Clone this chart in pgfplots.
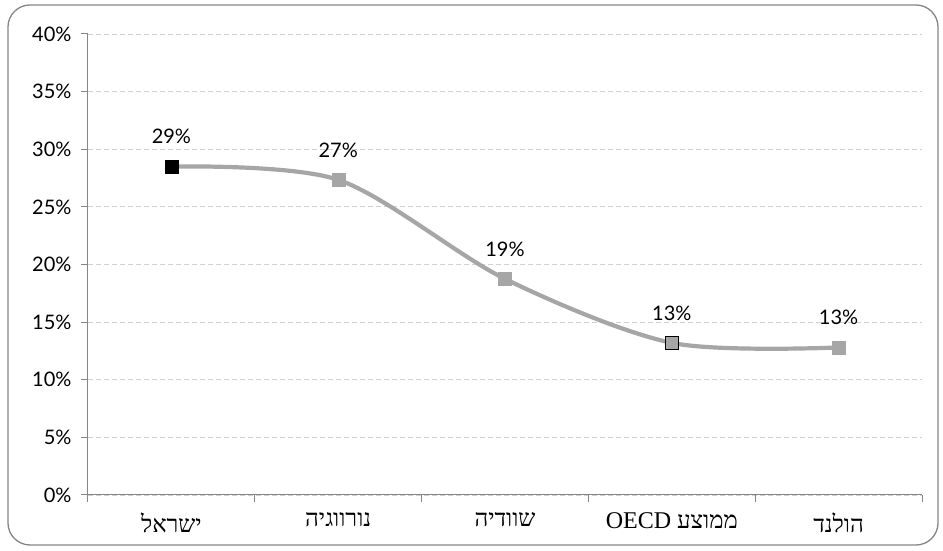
\documentclass[border=0pt]{standalone}
\usepackage{pgfplots}
\pgfplotsset{compat=1.18}
\usepackage{fontspec}
\setmainfont{Lato}
\newfontfamily\hebfont[Script=Hebrew]{Liberation Serif}
\TeXXeTstate=1
\definecolor{linegray}{HTML}{A6A6A6}
\definecolor{axgray}{HTML}{868686}
\definecolor{gridgray}{HTML}{D0D0D0}
\begin{document}
\begin{tikzpicture}[x=1pt,y=1pt]
\path (-88,-56) rectangle (855,495);
\draw[axgray, line width=1.3pt, rounded corners=22pt] (-80,-50) rectangle (850,490);
\begin{axis}[
  at={(0,0)}, anchor=south west,
  scale only axis, width=834pt, height=461pt,
  xmin=-0.5, xmax=4.5, ymin=0, ymax=40,
  axis lines=left, axis line style={-, axgray, line width=1pt},
  xtick={0,1,2,3,4},
  xticklabels={
    {\hebfont\beginR ישראל\endR},
    {\hebfont\beginR נורווגיה\endR},
    {\hebfont\beginR שוודיה\endR},
    {\hebfont\beginR ממוצע \beginL OECD\endL\endR},
    {\hebfont\beginR הולנד\endR}},
  minor xtick={-0.5,0.5,1.5,2.5,3.5,4.5},
  major x tick style={draw=none},
  minor tick length=7pt, major tick length=7pt,
  tick align=outside,
  tick style={axgray, line width=1pt},
  ytick={0,5,...,40},
  yticklabel={\pgfmathprintnumber{\tick}\%},
  /pgf/number format/assume math mode=true,
  ymajorgrids, grid style={gridgray, dash pattern=on 5pt off 3pt, line width=0.8pt},
  yticklabel style={font=\fontsize{20}{23}\selectfont, xshift=-6pt},
  xticklabel style={font=\hebfont\fontsize{24}{28}\selectfont, yshift=-7pt},
  clip=false,
]
\addplot[linegray, line width=4.2pt, smooth, tension=0.5, no marks,
  nodes near coords, point meta=explicit symbolic,
  every node near coord/.append style={font=\fontsize{20}{23}\selectfont, black, yshift=17pt}]
  coordinates {(0,28.5) [29\%] (1,27.35) [27\%] (2,18.75) [19\%] (3,13.2) [13\%] (4,12.8) [13\%]};
\addplot[only marks, mark=square*, mark size=6.5pt, mark options={fill=black, draw=black}]
  coordinates {(0,28.5)};
\addplot[only marks, mark=square*, mark size=6.5pt, mark options={fill=linegray, draw=linegray}]
  coordinates {(1,27.35) (2,18.75) (4,12.8)};
\addplot[only marks, mark=square*, mark size=6.5pt, mark options={fill=linegray, draw=black, line width=1.2pt}]
  coordinates {(3,13.2)};
\end{axis}
\end{tikzpicture}
\end{document}
